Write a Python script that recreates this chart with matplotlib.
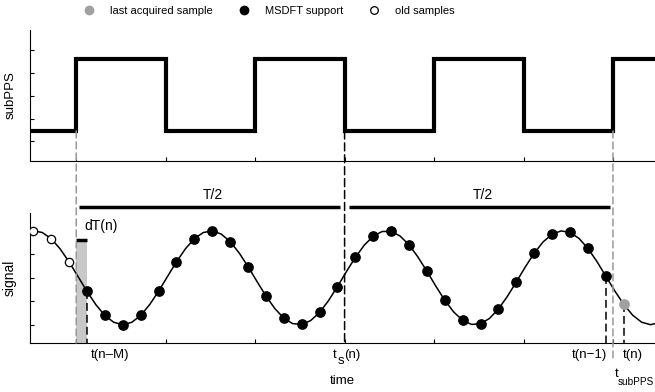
import numpy as np
import matplotlib
matplotlib.use('Agg')
import matplotlib.pyplot as plt
from matplotlib.lines import Line2D
from matplotlib.patches import ConnectionPatch

plt.rcParams['font.family'] = ['Liberation Sans', 'DejaVu Sans']
plt.rcParams['font.size'] = 9.5

# subPPS square wave: edge times (in sample periods) and levels
pps_edges = [2.4, 7.4, 12.4, 17.4, 22.4, 27.4, 32.4]
pps_level = [0, 1, 0, 1, 0, 1, 0, 1, 1]

# signal curve read every half sample, from t=-0.5 to t=35
curve_v = [0.932, 0.999, 0.965, 0.833, 0.616, 0.337, 0.026, -0.289, -0.575, -0.803,
           -0.949, -1.000, -0.950, -0.804, -0.574, -0.289, 0.026, 0.338, 0.616, 0.832,
           0.964, 0.999, 0.932, 0.772, 0.532, 0.240, -0.077, -0.386, -0.656, -0.860,
           -0.977, -0.995, -0.913, -0.739, -0.488, -0.188, 0.130, 0.434, 0.695, 0.885,
           0.986, 0.988, 0.890, 0.702, 0.442, 0.139, -0.179, -0.479, -0.730, -0.908,
           -0.994, -0.979, -0.866, -0.665, -0.396, -0.087, 0.230, 0.524, 0.766, 0.928,
           0.998, 0.967, 0.839, 0.625, 0.349, 0.035, -0.279, -0.566, -0.797, -0.946,
           -1.000, -0.953]
curve_t = np.arange(-0.5, 35.01, 0.5)

# samples at t = 0..33 : 3 old ones, MSDFT support, last acquired
sample_v = [0.999, 0.833, 0.337, -0.289, -0.803, -1.000, -0.804, -0.289, 0.338, 0.832,
            0.999, 0.772, 0.240, -0.386, -0.860, -0.995, -0.739, -0.188, 0.434, 0.885,
            0.988, 0.702, 0.139, -0.479, -0.908, -0.979, -0.665, -0.087, 0.524, 0.928,
            0.967, 0.625, 0.035, -0.566]
sample_t = np.arange(len(sample_v))
n_old = 3

t_nM = 3        # t(n-M)
t_s = 17.4      # t_s(n)
t_n1 = 32       # t(n-1)
t_n = 33        # t(n)
t_sub = 32.4    # t_subPPS
half_T = [(2.55, 17.15), (17.65, 32.25)]

xlim = (-0.184, 34.75)
ylim_bot = (-1.39, 1.38)
ylim_top = (-0.417, 1.403)

fig = plt.figure(figsize=(6.55, 3.92), dpi=100)
ax_top = fig.add_axes([30/655, 1-161/392, 625/655, 131/392])
ax_bot = fig.add_axes([30/655, 1-343/392, 625/655, 130/392])

for ax in (ax_top, ax_bot):
    ax.spines['top'].set_visible(False)
    ax.spines['right'].set_visible(False)
    ax.spines['left'].set_linewidth(0.8)
    ax.spines['bottom'].set_linewidth(0.8)
    ax.set_xlim(xlim)
    ax.set_xticks(pps_edges)
    ax.tick_params(direction='in', length=3, width=0.8, labelbottom=False, labelleft=False)

# top: subPPS
ax_top.set_ylim(ylim_top)
ax_top.set_yticks([-0.14, 0.17, 0.49, 0.81, 1.13])
ax_top.step([-0.5] + pps_edges + [35], pps_level, where='post', color='k', lw=3,
            solid_joinstyle='miter')
ax_top.set_ylabel('subPPS', fontsize=9.5)
ax_top.yaxis.set_label_coords(-13/625, 0.5)

# bottom: signal
ax_bot.set_ylim(ylim_bot)
ax_bot.set_yticks([-1, -0.5, 0, 0.5, 1])
ax_bot.fill_between([pps_edges[0], t_nM], ylim_bot[0], 0.80, color='#c8c8c8', lw=0, zorder=1)
ax_bot.plot([pps_edges[0], t_nM], [0.80, 0.80], color='k', lw=2.5, solid_capstyle='butt',
            clip_on=False)
ax_bot.plot(curve_t, curve_v, color='k', lw=1.1, zorder=2)
ax_bot.plot(sample_t[:n_old], sample_v[:n_old], 'o', ms=6, mfc='w', mec='k', mew=0.9, zorder=4)
ax_bot.plot(sample_t[n_old:-1], sample_v[n_old:-1], 'o', ms=6.7, color='k', zorder=4)
ax_bot.plot(sample_t[-1:], sample_v[-1:], 'o', ms=6.7, color='#a0a0a0', zorder=4)

for t in (t_nM, t_n1, t_n):
    ax_bot.plot([t, t], [sample_v[t], ylim_bot[0]], color='k', lw=1.1,
                dashes=(5.2, 2.6), zorder=3)

for a, b in half_T:
    ax_bot.plot([a, b], [1.505, 1.505], color='k', lw=2.5, solid_capstyle='butt', clip_on=False)
    ax_bot.text((a + b) / 2 + 0.2, 1.675, 'T/2', ha='center', va='baseline', fontsize=10)
ax_bot.text(2.83, 1.015, 'dT(n)', ha='left', va='baseline', fontsize=10)

# dashed links between panels
for t, col, low, dash in ((pps_edges[0], '#999999', ylim_bot[0], (4.5, 2.7)),
                          (t_sub, '#999999', -1.75, (4.5, 2.7)),
                          (t_s, 'k', ylim_bot[0], (5.2, 2.6))):
    con = ConnectionPatch(xyA=(t, 0), coordsA=ax_top.transData,
                          xyB=(t, low), coordsB=ax_bot.transData,
                          color=col, lw=1.1, linestyle=(0, dash), zorder=1)
    fig.add_artist(con)

# time labels under the signal axis (offsets in points)
trans = ax_bot.get_xaxis_transform()


def lab(txt, t, dx, dy, ha='left', size=9.5):
    ax_bot.annotate(txt, xy=(t, 0), xycoords=trans, xytext=(dx, dy),
                    textcoords='offset points', ha=ha, va='baseline', fontsize=size)


yb = -11
lab('t(n\u2013M)', t_nM, 3, yb)
lab('t', t_s, -8.6, yb)
lab('s', t_s, -5.2, yb - 4.3)
lab('(n)', t_s, -0.2, yb)
lab('t(n\u22121)', t_n1, 0.7, yb, ha='right')
lab('t(n)', t_n, -0.5, yb)
lab('t', t_sub, 1.2, -24.5)
lab('subPPS', t_sub, 3.4, -30.5, size=7.2)

ax_bot.set_xlabel('time', labelpad=23, fontsize=9.5)
ax_bot.set_ylabel('signal', fontsize=10)
ax_bot.yaxis.set_label_coords(-13/625, 0.5)

handles = [Line2D([], [], ls='none', marker='o', ms=6, mfc='#a0a0a0', mec='#a0a0a0'),
           Line2D([], [], ls='none', marker='o', ms=6, mfc='k', mec='k'),
           Line2D([], [], ls='none', marker='o', ms=5.5, mfc='w', mec='k', mew=0.9)]
labels = ['last acquired sample', 'MSDFT support', 'old samples']
fig.legend(handles, labels, loc='center', bbox_to_anchor=(0.411, 0.972), ncol=3,
           frameon=False, handlelength=1, handletextpad=1.4, columnspacing=2.3, fontsize=8)

plt.savefig('out.png', dpi=100)
